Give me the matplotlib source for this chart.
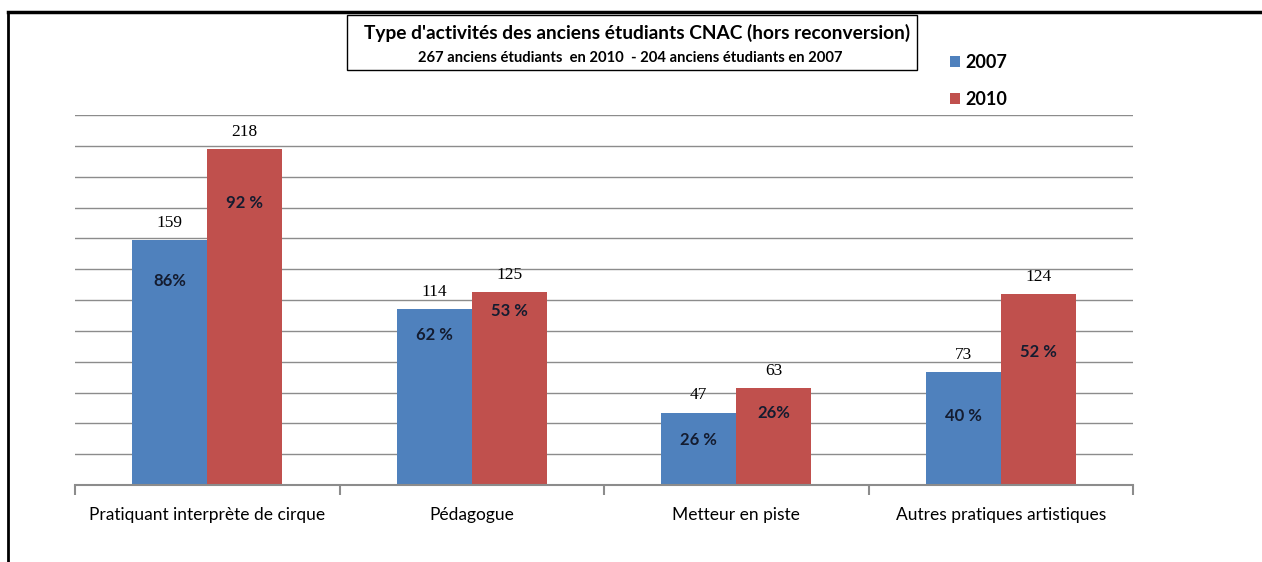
import matplotlib.pyplot as plt
import numpy as np
from matplotlib.lines import Line2D
from matplotlib.patches import Rectangle

categories = ["Pratiquant interprète de cirque", "Pédagogue", "Metteur en piste", "Autres pratiques artistiques"]
years = ["2007", "2010"]
counts_2007 = [159, 114, 47, 73]
counts_2010 = [218, 125, 63, 124]
pct_2007 = ["86%", "62 %", "26 %", "40 %"]
pct_2010 = ["92 %", "53 %", "26%", "52 %"]
# height (in data units) where the percentage text sits inside each bar
pct_y_2007 = [132, 97, 29, 45]
pct_y_2010 = [183, 113, 47, 86]

blue = "#4F81BD"
red = "#C0504D"
sans = ["Lato", "DejaVu Sans"]
serif = ["Liberation Serif", "DejaVu Serif"]

plt.rcParams['font.family'] = sans

fig = plt.figure(figsize=(12.62, 5.62), dpi=100)
ax = fig.add_axes([75 / 1262, 77 / 562, (1133 - 75) / 1262, (485 - 115) / 562])

x = np.arange(len(categories))
w = 0.284
b1 = ax.bar(x - w / 2, counts_2007, w, color=blue, zorder=2)
b2 = ax.bar(x + w / 2, counts_2010, w, color=red, zorder=2)

for i in range(len(categories)):
    ax.text(x[i] - w / 2, counts_2007[i] + 6, str(counts_2007[i]), ha="center", va="bottom",
            fontsize=12.5, family=serif)
    ax.text(x[i] + w / 2, counts_2010[i] + 6, str(counts_2010[i]), ha="center", va="bottom",
            fontsize=12.5, family=serif)
    ax.text(x[i] - w / 2, pct_y_2007[i], pct_2007[i], ha="center", va="center",
            fontsize=12, fontweight="bold", color="#141c30")
    ax.text(x[i] + w / 2, pct_y_2010[i], pct_2010[i], ha="center", va="center",
            fontsize=12, fontweight="bold", color="#141c30")

ax.set_xlim(-0.5, len(categories) - 0.5)
ax.set_ylim(0, 240)
ax.set_yticks(np.arange(20, 241, 20))
ax.yaxis.grid(True, color="#8c8c8c", linewidth=1, zorder=0)
ax.tick_params(axis="y", length=0, labelleft=False)
for s in ["top", "right", "left"]:
    ax.spines[s].set_visible(False)
ax.spines["bottom"].set_color("#8c8c8c")
ax.spines["bottom"].set_linewidth(1.5)

ax.set_xticks(np.arange(-0.5, len(categories), 1.0))
ax.set_xticks(x, minor=True)
ax.set_xticklabels([])
ax.set_xticklabels(categories, minor=True, fontsize=12.5)
ax.tick_params(axis="x", which="major", length=7, width=1.5, color="#8c8c8c", direction="out")
ax.tick_params(axis="x", which="minor", length=0, pad=16)

# title box
fig.add_artist(Rectangle((347 / 1262, 1 - 70 / 562), (917 - 347) / 1262, 55 / 562,
                         transform=fig.transFigure, fill=False, edgecolor="black", linewidth=1))
fig.text(637 / 1262, 1 - 33 / 562, "Type d'activités des anciens étudiants CNAC (hors reconversion)",
         ha="center", va="center", fontsize=13.8, fontweight="bold")
fig.text(630 / 1262, 1 - 58 / 562, "267 anciens étudiants  en 2010  - 204 anciens étudiants en 2007",
         ha="center", va="center", fontsize=10.6, fontweight="bold")

# legend
fig.legend([b1, b2], years, loc="upper left", bbox_to_anchor=(934 / 1262, 1 - 38 / 562),
           frameon=False, handlelength=0.55, handleheight=0.55, handletextpad=0.3,
           labelspacing=1.1, prop={"family": sans, "size": 13, "weight": "bold"})

# outer frame
fig.add_artist(Line2D([8 / 1262, 1], [1 - 12 / 562, 1 - 12 / 562], transform=fig.transFigure,
                      color="black", linewidth=2.5))
fig.add_artist(Line2D([8 / 1262, 8 / 1262], [0, 1 - 12 / 562], transform=fig.transFigure,
                      color="black", linewidth=2))

fig.savefig("out.png", dpi=100)
